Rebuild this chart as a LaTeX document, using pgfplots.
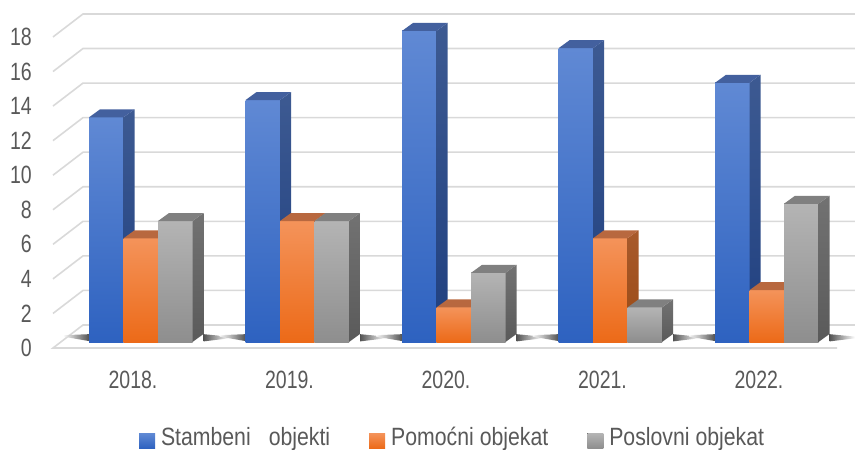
\documentclass[border=0pt]{standalone}
\usepackage{pgfplots}
\pgfplotsset{compat=1.18}
\usepackage{fontspec}
\setmainfont{Liberation Sans}
\newfontfamily\numfont{Liberation Sans}[FakeStretch=0.78]
\newfontfamily\legfont{Liberation Sans}[FakeStretch=0.85]
\definecolor{txt}{HTML}{595959}
\definecolor{gridc}{HTML}{D9D9D9}
\definecolor{bFt}{HTML}{6089D4}
\definecolor{bFb}{HTML}{2E62C0}
\definecolor{bSt}{HTML}{3D5A92}
\definecolor{bSb}{HTML}{1F3F7F}
\definecolor{bT}{HTML}{43609E}
\definecolor{oFt}{HTML}{F4935A}
\definecolor{oFb}{HTML}{EC6A18}
\definecolor{oSt}{HTML}{A85A2C}
\definecolor{oSb}{HTML}{9A4A14}
\definecolor{oT}{HTML}{B8683F}
\definecolor{gFt}{HTML}{B4B4B4}
\definecolor{gFb}{HTML}{8E8E8E}
\definecolor{gSt}{HTML}{727272}
\definecolor{gSb}{HTML}{5A5A5A}
\definecolor{gT}{HTML}{808080}
\tikzset{
  blueF/.style={top color=bFt,bottom color=bFb,draw=none},
  blueS/.style={top color=bSt,bottom color=bSb,draw=none},
  blueT/.style={fill=bT,draw=none},
  orangeF/.style={top color=oFt,bottom color=oFb,draw=none},
  orangeS/.style={top color=oSt,bottom color=oSb,draw=none},
  orangeT/.style={fill=oT,draw=none},
  grayF/.style={top color=gFt,bottom color=gFb,draw=none},
  grayS/.style={top color=gSt,bottom color=gSb,draw=none},
  grayT/.style={fill=gT,draw=none},
  gridl/.style={draw=gridc,line width=1.6pt},
}
% one bar: left x of front face, value, series
\newcommand{\onebar}[3]{%
  \pgfmathsetmacro\xa{#1}%
  \pgfmathsetmacro\xb{#1+34.5}%
  \pgfmathsetmacro\xc{#1+45.5}%
  \pgfmathsetmacro\xd{#1+11}%
  \pgfmathsetmacro\yT{#2+0.347}%
  \pgfmathsetmacro\yU{#2+0.81}%
  \edef\temp{%
    \noexpand\addplot[forget plot,mark=none,#3F] coordinates {(\xa,0.347)(\xb,0.347)(\xb,\yT)(\xa,\yT)};
    \noexpand\addplot[forget plot,mark=none,#3S] coordinates {(\xb,0.347)(\xc,0.81)(\xc,\yU)(\xb,\yT)};
    \noexpand\addplot[forget plot,mark=none,#3T] coordinates {(\xa,\yT)(\xb,\yT)(\xc,\yU)(\xd,\yU)};
  }\temp
}
\newcommand{\shadows}[1]{%
  \pgfmathsetmacro\sa{#1-26}%
  \pgfmathsetmacro\sb{#1}%
  \pgfmathsetmacro\sc{#1+114.5}%
  \pgfmathsetmacro\sd{#1+140}%
  \edef\temp{%
    \noexpand\addplot[forget plot,mark=none,draw=none,left color=white,right color=black!85,opacity=0.8] coordinates {(\sa,0.66)(\sb,0.40)(\sb,0.80)(\sa,0.74)};
    \noexpand\addplot[forget plot,mark=none,draw=none,left color=black!85,right color=white,opacity=0.8] coordinates {(\sc,0.38)(\sd,0.56)(\sd,0.66)(\sc,0.80)};
  }\temp
}
\newcommand{\group}[4]{%
  \onebar{#1}{#2}{blue}%
  \onebar{#1+34.5}{#3}{orange}%
  \onebar{#1+69}{#4}{gray}%
}
\begin{document}
\begin{tikzpicture}
\begin{axis}[
  scale only axis, width=855pt, height=450pt,
  xmin=0, xmax=855, ymin=-5.903, ymax=20.139,
  axis line style={draw=none},
  major tick length=0pt, tick style={draw=none},
  ytick={0,2,...,18},
  xtick={133,289.5,446,602.5,759},
  xticklabels={2018.,2019.,2020.,2021.,2022.},
  /pgf/number format/assume math mode=true,
  tick label style={font=\numfont\fontsize{25}{30}\selectfont, text=txt},
  yticklabel style={anchor=east, inner sep=0pt, xshift=32pt},
  xticklabel style={anchor=center, inner sep=0pt, yshift=70pt},
  legend columns=3,
  legend style={draw=none, fill=none, inner sep=0pt, outer sep=0pt,
    at={(axis description cs:0.1626,0.027)}, anchor=west,
    font=\legfont\fontsize{25}{30}\selectfont, text=txt,
    /tikz/every even column/.append style={column sep=39pt},
    nodes={inner sep=0pt}},
  legend cell align=left,
  legend image code/.code={\fill[#1] (0pt,-11pt) rectangle (16pt,4pt);\path (22pt,0pt);},
]
% gridlines: front-left end, back-left corner, back-right end
\addplot[gridl,forget plot,mark=none] coordinates {(53,2)(83,3.331)(855,3.331)};
\addplot[gridl,forget plot,mark=none] coordinates {(53,4)(83,5.331)(855,5.331)};
\addplot[gridl,forget plot,mark=none] coordinates {(53,6)(83,7.331)(855,7.331)};
\addplot[gridl,forget plot,mark=none] coordinates {(53,8)(83,9.331)(855,9.331)};
\addplot[gridl,forget plot,mark=none] coordinates {(53,10)(83,11.331)(855,11.331)};
\addplot[gridl,forget plot,mark=none] coordinates {(53,12)(83,13.331)(855,13.331)};
\addplot[gridl,forget plot,mark=none] coordinates {(53,14)(83,15.331)(855,15.331)};
\addplot[gridl,forget plot,mark=none] coordinates {(53,16)(83,17.331)(855,17.331)};
\addplot[gridl,forget plot,mark=none] coordinates {(53,18)(83,19.331)(855,19.331)};
% floor
\addplot[gridl,forget plot,mark=none] coordinates {(837,0)(53,0)(83,1.331)(855,1.331)};
\shadows{89}\shadows{245.5}\shadows{402}\shadows{558.5}\shadows{715}
% data: Stambeni, Pomocni, Poslovni
\group{89}{13}{6}{7}
\group{245.5}{14}{7}{7}
\group{402}{18}{2}{4}
\group{558.5}{17}{6}{2}
\group{715}{15}{3}{8}
\addlegendimage{blueF}
\addlegendentry{Stambeni\hspace{18pt}objekti}
\addlegendimage{orangeF}
\addlegendentry{Pomoćni objekat}
\addlegendimage{grayF}
\addlegendentry{Poslovni objekat}
\end{axis}
\end{tikzpicture}
\end{document}
